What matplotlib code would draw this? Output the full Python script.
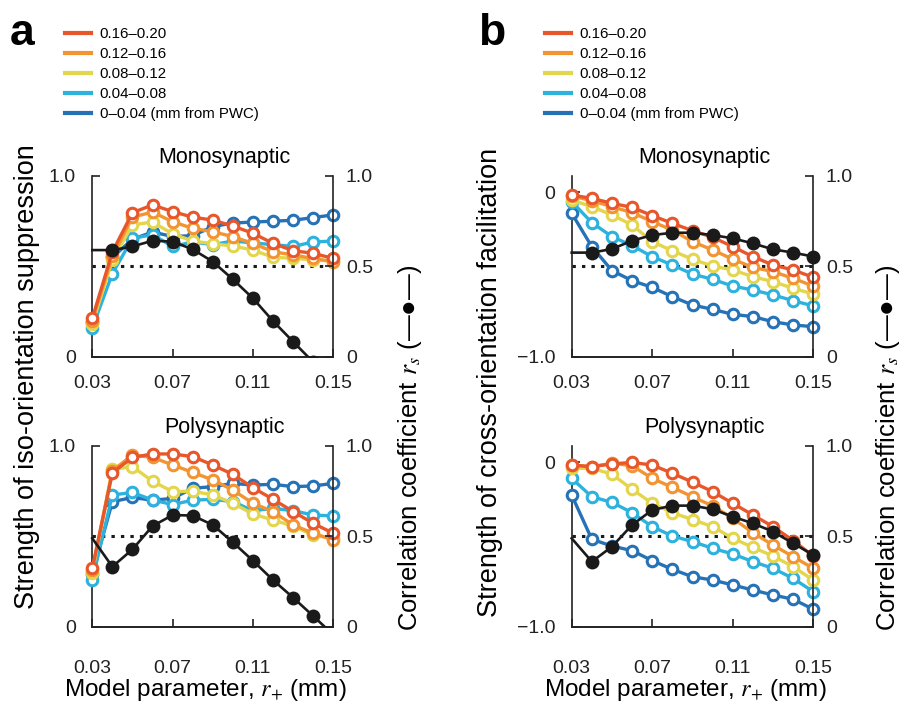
import matplotlib
matplotlib.use('Agg')
import matplotlib.pyplot as plt
import matplotlib.transforms as mtransforms
from matplotlib.lines import Line2D

plt.rcParams['font.family'] = ['Liberation Sans', 'DejaVu Sans']
plt.rcParams['mathtext.fontset'] = 'stix'

# ---------------- data ----------------
r_plus = [0.03, 0.04, 0.05, 0.06, 0.07, 0.08, 0.09, 0.10, 0.11, 0.12, 0.13, 0.14, 0.15]
x_ticks = [0.03, 0.07, 0.11, 0.15]
x_tick_labels = ['0.03', '0.07', '0.11', '0.15']

distance_labels = ['0.16\u20130.20', '0.12\u20130.16', '0.08\u20130.12', '0.04\u20130.08',
                   '0\u20130.04 (mm from PWC)']
distance_colors = ['#E8572B', '#F39433', '#E3D64C', '#2DB1DD', '#2672B7']

# Panel a, monosynaptic (strength of iso-orientation suppression), order: far -> near
a_mono_020 = [0.212, 0.58, 0.797, 0.84, 0.803, 0.772, 0.756, 0.723, 0.683, 0.627, 0.587, 0.572, 0.544]
a_mono_016 = [0.20, 0.555, 0.773, 0.80, 0.747, 0.71, 0.692, 0.664, 0.627, 0.581, 0.563, 0.544, 0.526]
a_mono_012 = [0.18, 0.535, 0.73, 0.745, 0.68, 0.64, 0.625, 0.613, 0.59, 0.55, 0.545, 0.535, 0.53]
a_mono_008 = [0.16, 0.46, 0.655, 0.675, 0.61, 0.635, 0.62, 0.64, 0.63, 0.62, 0.61, 0.635, 0.64]
a_mono_004 = [0.19, 0.55, 0.65, 0.69, 0.665, 0.67, 0.72, 0.74, 0.745, 0.75, 0.755, 0.77, 0.785]
a_mono_rs = [0.59, 0.59, 0.61, 0.642, 0.637, 0.594, 0.526, 0.428, 0.323, 0.197, 0.083, -0.03, -0.15]

# Panel a, polysynaptic
a_poly_020 = [0.323, 0.852, 0.937, 0.956, 0.956, 0.941, 0.895, 0.843, 0.769, 0.705, 0.637, 0.572, 0.517]
a_poly_016 = [0.314, 0.863, 0.95, 0.937, 0.895, 0.854, 0.812, 0.756, 0.683, 0.637, 0.563, 0.517, 0.48]
a_poly_012 = [0.299, 0.87, 0.886, 0.805, 0.747, 0.75, 0.729, 0.683, 0.624, 0.59, 0.557, 0.507, 0.489]
a_poly_008 = [0.258, 0.729, 0.743, 0.701, 0.676, 0.70, 0.705, 0.692, 0.642, 0.655, 0.642, 0.618, 0.613]
a_poly_004 = [0.29, 0.692, 0.715, 0.70, 0.71, 0.766, 0.775, 0.793, 0.784, 0.788, 0.775, 0.779, 0.793]
a_poly_rs = [0.489, 0.332, 0.428, 0.557, 0.618, 0.615, 0.563, 0.467, 0.365, 0.258, 0.161, 0.059, -0.045]

# Panel b, monosynaptic (strength of cross-orientation facilitation)
b_mono_020 = [-0.016, -0.036, -0.066, -0.091, -0.141, -0.188, -0.233, -0.273, -0.330, -0.391, -0.442, -0.472, -0.517]
b_mono_016 = [-0.022, -0.050, -0.087, -0.123, -0.178, -0.229, -0.300, -0.350, -0.407, -0.456, -0.482, -0.523, -0.570]
b_mono_012 = [-0.046, -0.087, -0.137, -0.198, -0.300, -0.355, -0.407, -0.448, -0.472, -0.513, -0.543, -0.584, -0.618]
b_mono_008 = [-0.056, -0.184, -0.269, -0.324, -0.391, -0.442, -0.497, -0.529, -0.570, -0.594, -0.624, -0.659, -0.691]
b_mono_004 = [-0.127, -0.330, -0.476, -0.537, -0.578, -0.635, -0.685, -0.712, -0.742, -0.756, -0.787, -0.807, -0.817]
b_mono_rs = [0.576, 0.576, 0.596, 0.642, 0.673, 0.686, 0.686, 0.673, 0.655, 0.627, 0.594, 0.576, 0.554]

# Panel b, polysynaptic
b_poly_020 = [-0.016, -0.026, -0.009, 0.0, -0.016, -0.066, -0.12, -0.178, -0.249, -0.320, -0.391, -0.476, -0.570]
b_poly_016 = [-0.016, -0.026, -0.005, -0.02, -0.097, -0.152, -0.209, -0.265, -0.340, -0.428, -0.503, -0.574, -0.645]
b_poly_012 = [-0.036, -0.036, -0.071, -0.164, -0.249, -0.306, -0.348, -0.391, -0.462, -0.517, -0.570, -0.635, -0.716]
b_poly_008 = [-0.097, -0.209, -0.243, -0.306, -0.391, -0.448, -0.482, -0.523, -0.557, -0.604, -0.645, -0.706, -0.787]
b_poly_004 = [-0.199, -0.468, -0.509, -0.537, -0.598, -0.651, -0.696, -0.716, -0.746, -0.777, -0.807, -0.833, -0.894]
b_poly_rs = [0.489, 0.360, 0.443, 0.563, 0.646, 0.670, 0.670, 0.650, 0.609, 0.572, 0.526, 0.461, 0.397]

rs_reference = 0.5

# ---------------- layout ----------------
W, H = 901, 703
fig = plt.figure(figsize=(W / 100, H / 100), dpi=100)


def box(l, t, r, b):
    return [l / W, 1 - b / H, (r - l) / W, (b - t) / H]


def draw_panel(rect, series, rs, ylim, yticks, yticklabels, title, xpad):
    ax = fig.add_axes(rect)
    ax2 = ax.twinx()
    clip = mtransforms.TransformedBbox(mtransforms.Bbox([[-0.1, 0.0], [1.1, 1.2]]), ax.transAxes)
    # reference dotted line (rs = 0.5 on the right axis)
    tr = mtransforms.blended_transform_factory(ax.transAxes, ax2.transData)
    ax.plot([0, 1], [rs_reference, rs_reference], transform=tr, color='#1a1a1a',
            linestyle=(0, (1.1, 2.0)), lw=2.2, zorder=1)
    for vals, col in zip(series[::-1], distance_colors[::-1]):
        ln, = ax.plot(r_plus, vals, color=col, lw=2.4, marker='o', ms=7.6, mew=2.2,
                      mfc='white', mec=col, zorder=3)
        ln.set_clip_box(clip)
    ln, = ax2.plot(r_plus, rs, color='#1a1a1a', lw=1.9, marker='o', ms=10, mew=0,
                   mfc='#1a1a1a', markevery=slice(1, None), zorder=4)
    ln.set_clip_box(clip)
    ax.set_xlim(0.03, 0.15)
    ax.set_ylim(*ylim)
    ax2.set_ylim(0, 1)
    ax.set_xticks(x_ticks)
    ax.set_xticklabels(x_tick_labels)
    ax.set_yticks(yticks)
    ax.set_yticklabels(yticklabels)
    ax2.set_yticks([0, 0.5, 1.0])
    ax2.set_yticklabels(['0', '0.5', '1.0'])
    for a in (ax, ax2):
        a.spines['top'].set_visible(False)
        for s in a.spines.values():
            s.set_linewidth(1.2)
            s.set_color('#222222')
    ax.spines['right'].set_visible(False)
    ax2.spines['left'].set_visible(False)
    ax.tick_params(axis='x', direction='in', length=6, width=1.2, labelsize=14, pad=xpad, colors='#222222')
    ax.tick_params(axis='y', direction='in', length=6, width=1.2, labelsize=14, pad=12, colors='#222222')
    ax2.tick_params(axis='y', direction='in', length=6, width=1.2, labelsize=14, pad=9, colors='#222222')
    ax.set_title(title, fontsize=15.5, pad=9, x=0.55)
    return ax, ax2


draw_panel(box(92.3, 176, 333.3, 356.7),
           [a_mono_020, a_mono_016, a_mono_012, a_mono_008, a_mono_004], a_mono_rs,
           (0, 1), [0, 1.0], ['0', '1.0'], 'Monosynaptic', 13)
draw_panel(box(92.3, 446, 333.3, 626.7),
           [a_poly_020, a_poly_016, a_poly_012, a_poly_008, a_poly_004], a_poly_rs,
           (0, 1), [0, 1.0], ['0', '1.0'], 'Polysynaptic', 24)
draw_panel(box(571.7, 176, 813.3, 356.7),
           [b_mono_020, b_mono_016, b_mono_012, b_mono_008, b_mono_004], b_mono_rs,
           (-1.0, 0.1), [-1.0, 0], ['\u22121.0', '0'], 'Monosynaptic', 13)
draw_panel(box(571.7, 446, 813.3, 626.7),
           [b_poly_020, b_poly_016, b_poly_012, b_poly_008, b_poly_004], b_poly_rs,
           (-1.0, 0.1), [-1.0, 0], ['\u22121.0', '0'], 'Polysynaptic', 24)

# panel letters
fig.text(10 / W, 1 - 45 / H, 'a', fontsize=32, fontweight='bold', va='baseline', ha='left')
fig.text(478 / W, 1 - 45 / H, 'b', fontsize=32, fontweight='bold', va='baseline', ha='left')

# legends
handles = [Line2D([], [], color=c, lw=3) for c in distance_colors]
for x0 in (65, 545):
    fig.legend(handles, distance_labels, loc='upper left', bbox_to_anchor=(x0 / W, 1 - 27 / H),
               frameon=False, fontsize=10.8, handlelength=1.75, handletextpad=0.55,
               labelspacing=0.4, borderpad=0, borderaxespad=0)

# axis labels
fig.text(27 / W, 1 - 377 / H, 'Strength of iso-orientation suppression', rotation=90,
         ha='center', va='center', fontsize=19.5)
fig.text(490 / W, 1 - 382 / H, 'Strength of cross-orientation facilitation', rotation=90,
         ha='center', va='center', fontsize=19.5)
rs_label = 'Correlation coefficient $r_s$ (\u2014\u25cf\u2014)'
fig.text(410 / W, 1 - 448 / H, rs_label, rotation=90, ha='center', va='center', fontsize=18.5)
fig.text(888 / W, 1 - 448 / H, rs_label, rotation=90, ha='center', va='center', fontsize=18.5)
xl = 'Model parameter, $r_{+}$ (mm)'
fig.text(205 / W, 1 - 690 / H, xl, ha='center', va='center', fontsize=17.5)
fig.text(685 / W, 1 - 690 / H, xl, ha='center', va='center', fontsize=17.5)

fig.savefig('out.png', dpi=100)
